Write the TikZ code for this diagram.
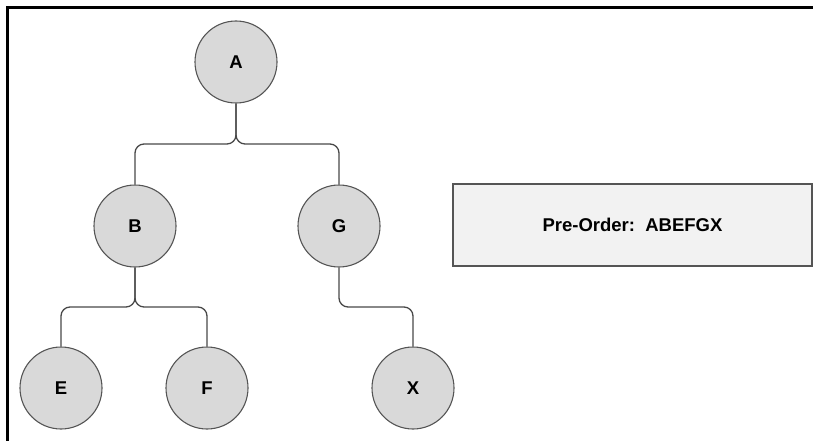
\documentclass[tikz,border=0pt]{standalone}
\usepackage{fontspec}
\setmainfont{Liberation Sans}
\usepackage{tikz}
\usetikzlibrary{calc}

\definecolor{nodefill}{HTML}{D9D9D9}
\definecolor{nodeline}{HTML}{555555}
\definecolor{boxfill}{HTML}{F2F2F2}

\begin{document}
\begin{tikzpicture}[x=1pt, y=-1pt,
    vertex/.style={circle, draw=nodeline, fill=nodefill, line width=1.1pt, minimum size=82pt, inner sep=0pt, font=\fontsize{18.5}{22}\selectfont\bfseries},
    result/.style={rectangle, draw=nodeline, fill=boxfill, line width=1.1pt, minimum width=359pt, minimum height=82pt, font=\fontsize{18.5}{22}\selectfont\bfseries},
    edge/.style={draw=nodeline!85!black, line width=1.3pt, rounded corners=9pt}]

\useasboundingbox (0,0) rectangle (813,441);
\clip (0,0) rectangle (813,441);
\draw[line width=3pt] (7,450) -- (7,7.5) -- (820,7.5);

\node[vertex] (A) at (236,62) {A};
\node[vertex] (B) at (135,226) {B};
\node[vertex] (G) at (339,226) {G};
\node[vertex] (E) at (61,388) {E};
\node[vertex] (F) at (207,388) {F};
\node[vertex] (X) at (413,388) {X};

\node[result] (order) at (632.5,225) {Pre-Order:~~ABEFGX};

\draw[edge] (A.south) |- ($(A.south)!.5!(B.north)$) -| (B.north);
\draw[edge] (A.south) |- ($(A.south)!.5!(G.north)$) -| (G.north);
\draw[edge] (B.south) |- ($(B.south)!.5!(E.north)$) -| (E.north);
\draw[edge] (B.south) |- ($(B.south)!.5!(F.north)$) -| (F.north);
\draw[edge] (G.south) |- ($(G.south)!.5!(X.north)$) -| (X.north);

\end{tikzpicture}
\end{document}
